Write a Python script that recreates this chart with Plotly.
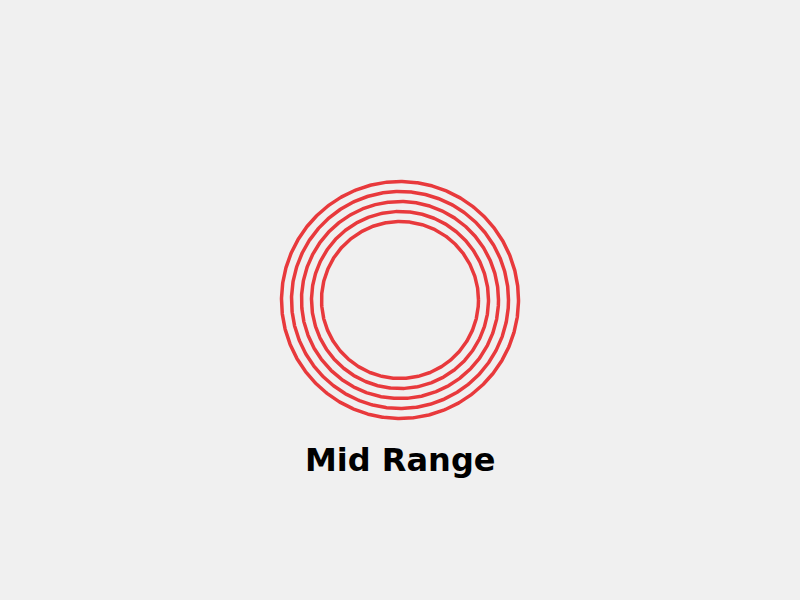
import numpy as np
import plotly.graph_objects as go

ring_radii = [118.5, 108.5, 98.5, 88.5, 78.5]
label_text = "Mid Range"
ring_color = "#e8393c"

theta = np.linspace(0, 2 * np.pi, 721)

fig = go.Figure()
for r in ring_radii:
    fig.add_trace(go.Scatter(
        x=r * np.cos(theta), y=r * np.sin(theta),
        mode="lines", line=dict(color=ring_color, width=3.5),
        hoverinfo="skip", showlegend=False,
    ))

fig.add_annotation(
    x=0, y=-160, xref="x", yref="y", text="<b>" + label_text + "</b>",
    showarrow=False, font=dict(family="DejaVu Sans", size=32, color="black"),
    xanchor="center", yanchor="middle",
)

fig.update_layout(
    width=800, height=600,
    margin=dict(l=0, r=0, t=0, b=0),
    paper_bgcolor="#f0f0f0", plot_bgcolor="#f0f0f0",
    xaxis=dict(range=[-400, 400], visible=False, fixedrange=True),
    yaxis=dict(range=[-300, 300], visible=False, fixedrange=True),
    showlegend=False,
)

fig.write_html(
    "out.html",
    config={"displayModeBar": False},
    post_script="document.body.style.margin='0';document.body.style.background='#f0f0f0';document.body.style.overflow='hidden';",
)
